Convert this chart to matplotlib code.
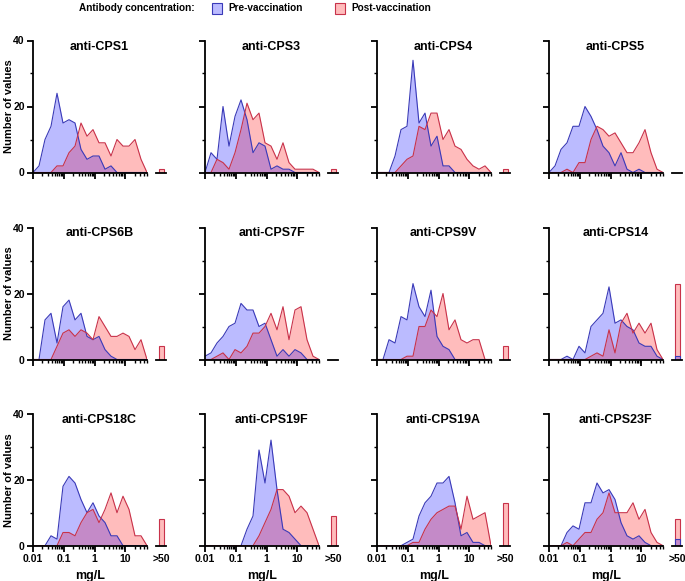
import matplotlib
matplotlib.use('Agg')
import matplotlib.pyplot as plt
import matplotlib.patches as mpatches
from matplotlib.ticker import LogLocator, NullFormatter, MultipleLocator
import numpy as np

plt.rcParams['font.family'] = ['Liberation Sans', 'DejaVu Sans']
plt.rcParams['font.weight'] = 'bold'

# bin centres (log10 mg/L), 20 bins from 0.01 up to 50
log_bins = np.linspace(-2.0, np.log10(50), 20)

titles = ['anti-CPS1', 'anti-CPS3', 'anti-CPS4', 'anti-CPS5',
          'anti-CPS6B', 'anti-CPS7F', 'anti-CPS9V', 'anti-CPS14',
          'anti-CPS18C', 'anti-CPS19F', 'anti-CPS19A', 'anti-CPS23F']

pre = [
    [0, 2, 10, 14, 24, 15, 16, 15, 7, 4, 5, 5, 1, 2, 0, 0, 0, 0, 0, 0],
    [0, 6, 4, 20, 8, 17, 22, 16, 6, 9, 8, 1, 2, 1, 1, 0, 0, 0, 0, 0],
    [0, 0, 0, 5, 13, 14, 34, 15, 18, 8, 11, 2, 2, 0, 0, 0, 0, 0, 0, 0],
    [0, 2, 7, 9, 14, 14, 20, 17, 13, 8, 6, 2, 6, 1, 0, 1, 0, 0, 0, 0],
    [0, 0, 12, 14, 5, 16, 18, 12, 14, 7, 6, 7, 3, 1, 0, 0, 0, 0, 0, 0],
    [1, 2, 5, 7, 10, 11, 17, 15, 15, 10, 11, 6, 1, 3, 1, 3, 2, 0, 0, 0],
    [0, 0, 6, 5, 13, 12, 23, 16, 13, 21, 7, 4, 3, 0, 0, 0, 0, 0, 0, 0],
    [0, 0, 0, 1, 0, 4, 2, 10, 12, 14, 22, 11, 12, 10, 9, 5, 4, 4, 1, 0],
    [0, 0, 0, 3, 2, 18, 21, 19, 14, 10, 13, 9, 7, 3, 3, 0, 0, 0, 0, 0],
    [0, 0, 0, 0, 0, 0, 0, 5, 9, 29, 19, 32, 17, 5, 4, 2, 0, 0, 0, 0],
    [0, 0, 0, 0, 0, 1, 2, 9, 13, 15, 19, 19, 21, 13, 3, 4, 1, 1, 0, 0],
    [0, 0, 0, 4, 6, 5, 13, 13, 19, 16, 17, 14, 7, 3, 2, 3, 1, 0, 0, 0],
]

post = [
    [0, 0, 0, 0, 2, 2, 6, 8, 15, 11, 13, 9, 9, 5, 10, 8, 8, 10, 4, 0],
    [0, 0, 4, 3, 1, 6, 13, 21, 16, 18, 9, 8, 4, 9, 3, 1, 1, 1, 1, 0],
    [0, 0, 0, 0, 2, 4, 5, 14, 13, 18, 18, 10, 13, 8, 7, 4, 2, 1, 2, 0],
    [0, 0, 0, 1, 0, 3, 3, 10, 14, 13, 11, 12, 9, 6, 6, 9, 13, 6, 1, 0],
    [0, 0, 0, 0, 4, 8, 9, 7, 9, 8, 6, 13, 10, 7, 7, 8, 7, 3, 6, 0],
    [0, 0, 1, 2, 0, 3, 2, 4, 8, 8, 10, 14, 9, 16, 6, 15, 16, 6, 1, 0],
    [0, 0, 0, 0, 0, 1, 1, 10, 10, 15, 13, 20, 9, 12, 6, 5, 6, 6, 0, 0],
    [0, 0, 0, 0, 0, 0, 0, 1, 2, 1, 9, 2, 11, 14, 8, 11, 8, 11, 3, 0],
    [0, 0, 0, 0, 0, 4, 4, 3, 7, 10, 11, 7, 11, 16, 10, 15, 11, 3, 3, 0],
    [0, 0, 0, 0, 0, 0, 0, 0, 0, 3, 7, 11, 17, 17, 15, 10, 12, 10, 5, 0],
    [0, 0, 0, 0, 0, 0, 1, 1, 5, 8, 10, 11, 12, 12, 5, 15, 8, 9, 10, 0],
    [0, 0, 0, 1, 0, 2, 4, 4, 8, 10, 16, 10, 10, 10, 13, 8, 11, 4, 1, 0],
]

# counts above 50 mg/L
pre_over = [0, 0, 0, 0, 0, 0, 0, 1, 0, 0, 0, 2]
post_over = [1, 1, 1, 0, 4, 0, 4, 23, 8, 9, 13, 8]

blue_fill = '#bbbbff'
red_fill = '#ffbcbc'
mix_fill = '#c48ac8'
blue_line = '#3a3ab8'
red_line = '#c8324a'

W, H = 685, 581
fig = plt.figure(figsize=(W / 100, H / 100), dpi=100)

col_left = [33, 205, 377, 549]
row_bottom = [172.5, 359.5, 545.7]
ax_h = 132
main_w = 114

fine = np.linspace(log_bins[0], log_bins[-1], 1500)

for k in range(12):
    r, c = divmod(k, 4)
    x0 = col_left[c]
    yb = row_bottom[r]
    ax = fig.add_axes([x0 / W, 1 - yb / H, main_w / W, ax_h / H])
    ax2 = fig.add_axes([(x0 + 123) / W, 1 - yb / H, 10 / W, ax_h / H])

    b = np.array(pre[k], float)
    p = np.array(post[k], float)
    bf = np.interp(fine, log_bins, b)
    pf = np.interp(fine, log_bins, p)
    xf = 10 ** fine
    xb = 10 ** log_bins
    ax.fill_between(xf, 0, bf, color=blue_fill, lw=0)
    ax.fill_between(xf, 0, pf, color=red_fill, lw=0)
    ax.fill_between(xf, 0, np.minimum(bf, pf), color=mix_fill, lw=0)
    ax.plot(xb, b, color=blue_line, lw=0.8)
    ax.plot(xb, p, color=red_line, lw=0.8)

    ax.set_xscale('log')
    ax.set_xlim(0.01, 50)
    ax.set_ylim(0, 40)
    ax.set_xticks([0.01, 0.1, 1, 10])
    ax.xaxis.set_minor_locator(LogLocator(base=10, subs=np.arange(2, 10), numticks=20))
    ax.xaxis.set_minor_formatter(NullFormatter())
    ax.set_yticks([0, 20, 40])
    ax.yaxis.set_minor_locator(MultipleLocator(10))
    for s in ['top', 'right']:
        ax.spines[s].set_visible(False)
    for s in ['left', 'bottom']:
        ax.spines[s].set_linewidth(1.3)
    ax.tick_params(which='major', length=4, width=1.3, labelsize=7.5, pad=2)
    ax.tick_params(which='minor', length=2.5, width=1.0)
    if r == 2:
        ax.set_xticklabels(['0.01', '0.1', '1', '10'])
        ax.set_xlabel('mg/L', fontsize=9, fontweight='bold', labelpad=4)
    else:
        ax.set_xticklabels([])
    if c == 0:
        ax.set_ylabel('Number of values', fontsize=8, fontweight='bold')
        ax.yaxis.set_label_coords(-19 / main_w, 0.5)
    else:
        ax.set_yticklabels([])

    # >50 segment
    ax2.set_xlim(0, 1)
    ax2.set_ylim(0, 40)
    ax2.bar([0.5], [post_over[k]], width=0.5, color=red_fill, edgecolor=red_line, lw=0.8)
    if pre_over[k] > 0:
        ax2.bar([0.5], [min(pre_over[k], post_over[k])], width=0.5, color=mix_fill,
                edgecolor=blue_line, lw=0.8)
    for s in ['top', 'right', 'left']:
        ax2.spines[s].set_visible(False)
    ax2.spines['bottom'].set_linewidth(1.3)
    ax2.set_yticks([])
    ax2.set_xticks([0.5])
    ax2.tick_params(length=0, labelsize=7.5, pad=6)
    ax2.set_xticklabels(['>50'] if r == 2 else [''])

    fig.text((x0 + 66.5) / W, 1 - (yb - ax_h + 6) / H, titles[k],
             ha='center', va='center', fontsize=9, fontweight='bold')

# legend across the top
fig.text(79 / W, 1 - 8 / H, 'Antibody concentration:', ha='left', va='center',
         fontsize=7.2, fontweight='bold')
fig.patches.append(mpatches.Rectangle((212 / W, 1 - 14 / H), 10 / W, 11 / H,
                                      transform=fig.transFigure, facecolor=blue_fill,
                                      edgecolor=blue_line, lw=0.8))
fig.text(228 / W, 1 - 8 / H, 'Pre-vaccination', ha='left', va='center',
         fontsize=7.2, fontweight='bold')
fig.patches.append(mpatches.Rectangle((335 / W, 1 - 14 / H), 10 / W, 11 / H,
                                      transform=fig.transFigure, facecolor=red_fill,
                                      edgecolor=red_line, lw=0.8))
fig.text(351 / W, 1 - 8 / H, 'Post-vaccination', ha='left', va='center',
         fontsize=7.2, fontweight='bold')

fig.savefig('out.png', dpi=100)
